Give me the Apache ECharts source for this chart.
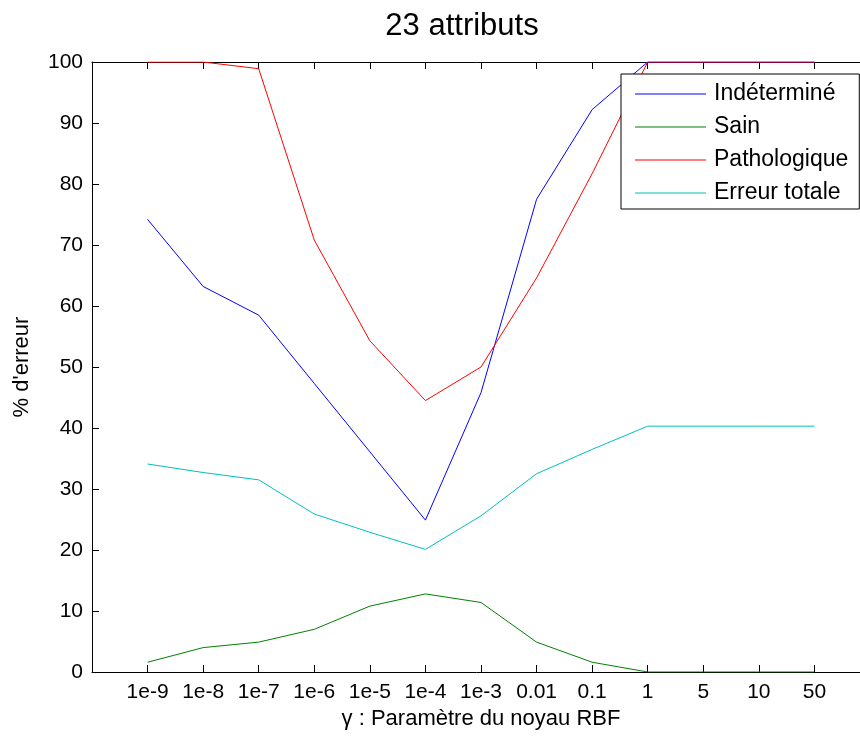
<!DOCTYPE html>
<html>
<head>
<meta charset="utf-8">
<script src="https://cdn.jsdelivr.net/npm/echarts@6/dist/echarts.min.js"></script>
<style>html,body{margin:0;padding:0;background:#fff;}#c{width:860px;height:738px;}</style>
</head>
<body>
<div id="c"></div>
<script>
const categories = ['1e-9','1e-8','1e-7','1e-6','1e-5','1e-4','1e-3','0.01','0.1','1','5','10','50'];
const indetermine = [74.2, 63.2, 58.5, 47.3, 36.1, 24.9, 45.8, 77.5, 92.2, 100, 100, 100, 100];
const sain = [1.6, 4.0, 4.9, 7.0, 10.8, 12.8, 11.4, 4.9, 1.6, 0, 0, 0, 0];
const pathologique = [100, 100, 98.9, 70.8, 54.3, 44.5, 50.0, 64.6, 81.7, 100, 100, 100, 100];
const erreurTotale = [34.1, 32.7, 31.5, 25.9, 22.9, 20.1, 25.6, 32.5, 36.5, 40.3, 40.3, 40.3, 40.3];
const yTicks = [0,10,20,30,40,50,60,70,80,90,100];

const FONT = 'Liberation Sans, Arial, Helvetica, sans-serif';
const toPts = arr => arr.map((v, i) => [i + 1, v]);

const chart = echarts.init(document.getElementById('c'), null, {renderer: 'canvas'});
const mk = (name, data, color) => ({
  name, type: 'line', data: toPts(data), symbol: 'none',
  lineStyle: {color, width: 1}, itemStyle: {color}, animation: false
});
chart.setOption({
  animation: false,
  backgroundColor: '#fff',
  title: {
    text: '23 attributs', left: 457, top: 6, textAlign: 'center',
    textStyle: {fontFamily: FONT, fontSize: 31, fontWeight: 'normal', color: '#000'}
  },
  grid: {left: 92, top: 62, bottom: 66, width: 778, outerBoundsMode: 'none', containLabel: false},
  legend: {
    orient: 'vertical', left: 621, top: 74,
    padding: [8, 11, 4, 14], itemGap: 9, itemWidth: 71, itemHeight: 1.2,
    icon: 'rect',
    borderColor: '#000', borderWidth: 1, backgroundColor: '#fff',
    textStyle: {fontFamily: FONT, fontSize: 23, color: '#000', lineHeight: 24, padding: [0, 0, 0, 3]},
    data: ['Indéterminé', 'Sain', 'Pathologique', 'Erreur totale'],
    z: 10
  },
  xAxis: [{
    type: 'value', min: 0, max: 14, interval: 1, position: 'bottom',
    name: 'γ : Paramètre du noyau RBF', nameLocation: 'middle', nameGap: 35,
    nameTextStyle: {fontFamily: FONT, fontSize: 22, color: '#000'},
    axisLine: {lineStyle: {color: '#000', width: 1}},
    axisTick: {inside: true, length: 7, lineStyle: {color: '#000'}},
    axisLabel: {fontFamily: FONT, fontSize: 21, color: '#000', margin: 10,
      formatter: v => (v >= 1 && v <= categories.length) ? categories[v - 1] : ''},
    splitLine: {show: false}
  }, {
    type: 'value', min: 0, max: 14, interval: 1, position: 'top',
    axisLine: {lineStyle: {color: '#000', width: 1}},
    axisTick: {inside: true, length: 7, lineStyle: {color: '#000'}},
    axisLabel: {show: false}, splitLine: {show: false}
  }],
  yAxis: {
    type: 'value', min: yTicks[0], max: yTicks[yTicks.length - 1], interval: 10,
    name: "% d'erreur", nameLocation: 'middle', nameGap: 59, nameRotate: 90,
    nameTextStyle: {fontFamily: FONT, fontSize: 22, color: '#000'},
    axisLine: {show: true, lineStyle: {color: '#000', width: 1}},
    axisTick: {show: true, inside: true, length: 7, lineStyle: {color: '#000'}},
    axisLabel: {fontFamily: FONT, fontSize: 21, color: '#000', margin: 9},
    splitLine: {show: false}
  },
  series: [
    mk('Indéterminé', indetermine, '#0000ff'),
    mk('Sain', sain, '#008000'),
    mk('Pathologique', pathologique, '#ff0000'),
    mk('Erreur totale', erreurTotale, '#00bfbf')
  ]
});
</script>
</body>
</html>
